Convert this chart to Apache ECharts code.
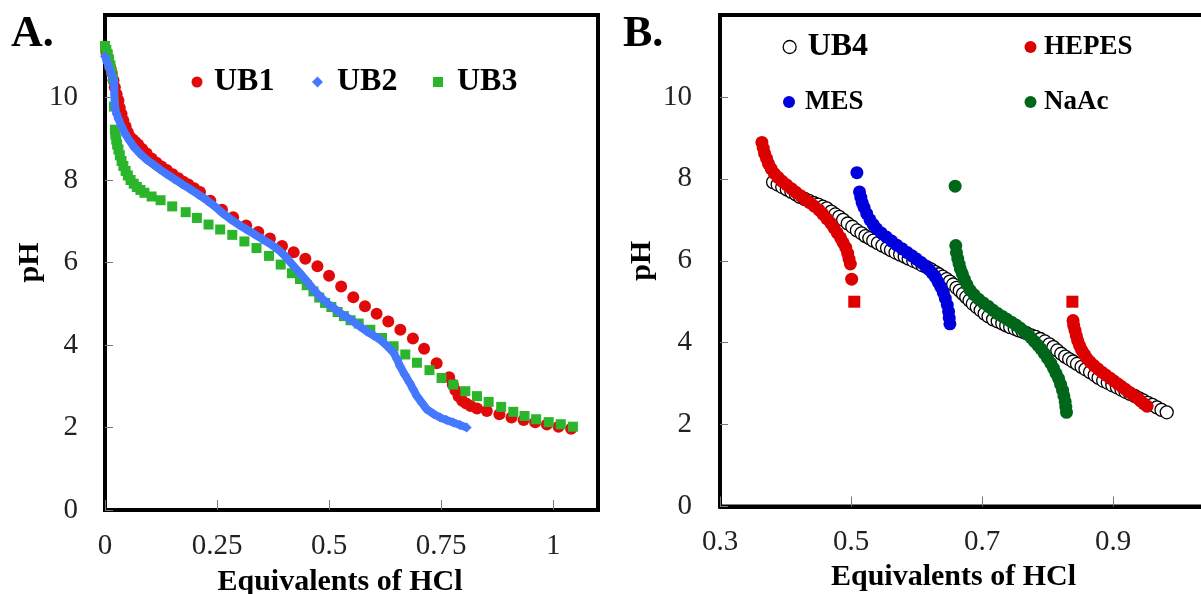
<!DOCTYPE html>
<html>
<head>
<meta charset="utf-8">
<script src="https://cdn.jsdelivr.net/npm/echarts@6/dist/echarts.min.js"></script>
<style>
html,body{margin:0;padding:0;background:#fff;}
#chart{width:1201px;height:594px;}
</style>
</head>
<body>
<div id="chart"></div>
<script>
// ---------- Panel A data: [equivalents of HCl, pH] ----------
const ub1 = [[0.003,11.1],[0.007,10.95],[0.011,10.75],[0.015,10.6],[0.019,10.42],[0.022,10.25],[0.026,10.08],[0.03,9.93],[0.033,9.75],[0.037,9.6],[0.041,9.44],[0.046,9.3],[0.051,9.16],[0.056,9.04],[0.062,8.98],[0.068,8.92],[0.074,8.86],[0.083,8.75],[0.093,8.64],[0.104,8.52],[0.115,8.42],[0.126,8.33],[0.138,8.24],[0.151,8.14],[0.164,8.04],[0.175,7.96],[0.186,7.89],[0.199,7.8],[0.212,7.71],[0.235,7.5],[0.261,7.28],[0.286,7.1],[0.315,6.9],[0.342,6.74],[0.368,6.58],[0.395,6.4],[0.421,6.25],[0.447,6.09],[0.474,5.91],[0.5,5.68],[0.527,5.42],[0.554,5.16],[0.58,4.94],[0.606,4.76],[0.632,4.57],[0.659,4.37],[0.687,4.16],[0.712,3.91],[0.74,3.56],[0.768,3.22],[0.776,3.04],[0.782,2.9],[0.789,2.76],[0.797,2.65],[0.806,2.58],[0.816,2.52],[0.83,2.46],[0.852,2.4],[0.88,2.32],[0.907,2.24],[0.934,2.18],[0.96,2.13],[0.986,2.07],[1.012,2.02],[1.04,1.97]];
const ub2 = [[0.0,11.0],[0.005,10.85],[0.01,10.7],[0.015,10.55],[0.02,10.4],[0.022,9.75],[0.026,9.6],[0.03,9.48],[0.037,9.3],[0.045,9.12],[0.055,8.95],[0.066,8.78],[0.078,8.64],[0.092,8.5],[0.107,8.38],[0.122,8.26],[0.138,8.14],[0.155,8.02],[0.172,7.9],[0.19,7.78],[0.208,7.65],[0.226,7.52],[0.244,7.37],[0.262,7.2],[0.28,7.05],[0.298,6.92],[0.316,6.8],[0.334,6.68],[0.352,6.56],[0.37,6.44],[0.388,6.3],[0.403,6.14],[0.418,5.95],[0.435,5.74],[0.45,5.55],[0.465,5.35],[0.48,5.17],[0.495,5.02],[0.51,4.9],[0.525,4.77],[0.54,4.67],[0.554,4.57],[0.569,4.45],[0.584,4.33],[0.599,4.23],[0.614,4.13],[0.629,3.98],[0.644,3.81],[0.652,3.65],[0.658,3.49],[0.669,3.28],[0.68,3.08],[0.688,2.92],[0.696,2.76],[0.707,2.6],[0.718,2.44],[0.733,2.33],[0.748,2.24],[0.762,2.18],[0.777,2.12],[0.792,2.06],[0.807,2.0]];
const ub3 = [[0.0,11.25],[0.003,11.15],[0.006,11.05],[0.009,10.92],[0.012,10.78],[0.015,10.62],[0.018,10.45],[0.02,9.78],[0.022,9.22],[0.023,9.1],[0.025,8.98],[0.027,8.86],[0.03,8.74],[0.033,8.6],[0.037,8.46],[0.041,8.34],[0.046,8.22],[0.051,8.11],[0.057,8.0],[0.064,7.91],[0.071,7.83],[0.079,7.76],[0.088,7.69],[0.104,7.6],[0.124,7.51],[0.15,7.36],[0.18,7.22],[0.205,7.08],[0.231,6.92],[0.257,6.8],[0.284,6.67],[0.311,6.51],[0.338,6.35],[0.366,6.16],[0.392,5.95],[0.417,5.74],[0.435,5.6],[0.45,5.45],[0.465,5.3],[0.478,5.15],[0.491,5.02],[0.505,4.92],[0.519,4.8],[0.533,4.7],[0.548,4.6],[0.566,4.52],[0.592,4.37],[0.618,4.17],[0.644,3.97],[0.67,3.77],[0.696,3.57],[0.724,3.39],[0.751,3.2],[0.777,3.04],[0.804,2.88],[0.83,2.76],[0.856,2.62],[0.884,2.5],[0.911,2.38],[0.936,2.28],[0.962,2.2],[0.99,2.13],[1.017,2.08],[1.044,2.02]];

// ---------- Panel B data ----------
const ub4 = [[0.381,7.92],[0.388,7.86],[0.395,7.8],[0.402,7.74],[0.409,7.68],[0.416,7.62],[0.422,7.56],[0.429,7.51],[0.436,7.46],[0.443,7.41],[0.45,7.37],[0.457,7.32],[0.463,7.28],[0.47,7.2],[0.476,7.13],[0.482,7.07],[0.488,7.0],[0.495,6.91],[0.502,6.83],[0.509,6.74],[0.516,6.67],[0.522,6.6],[0.528,6.55],[0.534,6.49],[0.541,6.43],[0.548,6.37],[0.555,6.31],[0.561,6.26],[0.568,6.2],[0.575,6.15],[0.582,6.1],[0.588,6.05],[0.595,6.0],[0.602,5.95],[0.609,5.89],[0.616,5.84],[0.622,5.79],[0.628,5.73],[0.634,5.67],[0.64,5.61],[0.646,5.55],[0.651,5.49],[0.656,5.42],[0.661,5.34],[0.666,5.27],[0.671,5.19],[0.676,5.11],[0.681,5.03],[0.686,4.95],[0.692,4.87],[0.698,4.79],[0.704,4.71],[0.71,4.64],[0.717,4.57],[0.724,4.52],[0.731,4.47],[0.737,4.42],[0.743,4.38],[0.75,4.34],[0.756,4.3],[0.762,4.27],[0.768,4.23],[0.775,4.18],[0.782,4.14],[0.789,4.09],[0.796,4.03],[0.803,3.96],[0.809,3.89],[0.815,3.81],[0.821,3.73],[0.827,3.66],[0.833,3.6],[0.839,3.54],[0.845,3.48],[0.852,3.41],[0.858,3.35],[0.865,3.28],[0.872,3.21],[0.878,3.14],[0.885,3.07],[0.892,3.02],[0.899,2.96],[0.906,2.91],[0.913,2.85],[0.919,2.8],[0.926,2.75],[0.933,2.7],[0.94,2.64],[0.946,2.59],[0.953,2.53],[0.96,2.48],[0.967,2.42],[0.974,2.36],[0.982,2.3]];
const hepes = [[0.364,8.89],[0.366,8.75],[0.368,8.62],[0.371,8.5],[0.374,8.37],[0.378,8.25],[0.383,8.13],[0.389,8.03],[0.395,7.94],[0.402,7.85],[0.409,7.76],[0.416,7.67],[0.423,7.59],[0.43,7.5],[0.437,7.42],[0.444,7.33],[0.451,7.24],[0.457,7.14],[0.463,7.03],[0.469,6.92],[0.474,6.8],[0.479,6.68],[0.484,6.56],[0.488,6.44],[0.492,6.32],[0.495,6.18],[0.497,6.04],[0.499,5.92],[0.501,5.55],
  [0.839,4.54],[0.84,4.42],[0.842,4.3],[0.844,4.17],[0.846,4.05],[0.849,3.93],[0.852,3.82],[0.856,3.72],[0.86,3.62],[0.865,3.53],[0.871,3.44],[0.877,3.36],[0.883,3.28],[0.889,3.21],[0.895,3.14],[0.901,3.07],[0.907,3.0],[0.913,2.93],[0.919,2.86],[0.925,2.79],[0.931,2.72],[0.937,2.65],[0.942,2.58],[0.947,2.51],[0.952,2.45]];
const hepesSquares = [[0.505,5.0],[0.838,5.0]];
const mes = [[0.509,8.15],[0.513,7.68],[0.515,7.55],[0.517,7.42],[0.52,7.3],[0.524,7.15],[0.529,7.0],[0.534,6.88],[0.539,6.78],[0.546,6.68],[0.554,6.58],[0.562,6.48],[0.57,6.38],[0.578,6.29],[0.586,6.2],[0.593,6.12],[0.6,6.04],[0.607,5.96],[0.613,5.88],[0.619,5.79],[0.624,5.7],[0.629,5.6],[0.633,5.48],[0.637,5.36],[0.641,5.22],[0.644,5.08],[0.647,4.92],[0.649,4.76],[0.65,4.6],[0.651,4.46]];
const naac = [[0.659,7.82],[0.66,6.37],[0.661,6.2],[0.663,6.05],[0.665,5.92],[0.667,5.8],[0.67,5.68],[0.673,5.55],[0.677,5.42],[0.682,5.28],[0.688,5.17],[0.695,5.06],[0.702,4.97],[0.71,4.88],[0.717,4.79],[0.724,4.71],[0.731,4.64],[0.738,4.57],[0.745,4.5],[0.752,4.43],[0.758,4.36],[0.764,4.28],[0.77,4.2],[0.775,4.12],[0.78,4.03],[0.785,3.94],[0.79,3.85],[0.795,3.74],[0.8,3.62],[0.805,3.5],[0.809,3.38],[0.813,3.25],[0.817,3.12],[0.82,2.98],[0.823,2.84],[0.825,2.7],[0.827,2.56],[0.828,2.43],[0.829,2.3]];

// axis ranges / ticks
const axisA = {xMin: 0, xMax: 1.1, xStep: 0.25, yMin: 0, yMax: 12, yStep: 2};
const axisB = {xMin: 0.3, xMax: 1.1, xStep: 0.2, yMin: 0, yMax: 12, yStep: 2};
const panelLabels = ['A.', 'B.'];
const xName = 'Equivalents of HCl';
const yName = 'pH';

const SERIF = 'Liberation Serif';
const chart = echarts.init(document.getElementById('chart'), null, {renderer: 'canvas'});

function xAxis(idx, ax, labelMargin, nameGap, namePadRight) {
  return {
    type: 'value', gridIndex: idx, min: ax.xMin, max: ax.xMax, interval: ax.xStep,
    name: xName, nameLocation: 'middle', nameGap: nameGap,
    nameTextStyle: {fontFamily: SERIF, fontWeight: 'bold', fontSize: 30, color: '#000', padding: [0, namePadRight, 0, 0]},
    axisLine: {show: true, onZero: false, lineStyle: {color: '#000', width: 4}},
    axisTick: {show: true, inside: true, length: 10, lineStyle: {color: '#777', width: 1}},
    axisLabel: {fontFamily: SERIF, fontSize: 29, color: '#222', margin: labelMargin, showMaxLabel: false},
    splitLine: {show: false}
  };
}
function yAxis(idx, ax, labelMargin, nameGap) {
  return {
    type: 'value', gridIndex: idx, min: ax.yMin, max: ax.yMax, interval: ax.yStep,
    name: yName, nameLocation: 'middle', nameGap: nameGap,
    nameTextStyle: {fontFamily: SERIF, fontWeight: 'bold', fontSize: 30, color: '#000'},
    axisLine: {show: true, onZero: false, lineStyle: {color: '#000', width: 4}},
    axisTick: {show: true, inside: true, length: 8, lineStyle: {color: '#777', width: 1}},
    axisLabel: {fontFamily: SERIF, fontSize: 29, color: '#222', margin: labelMargin, showMaxLabel: false},
    splitLine: {show: false}
  };
}
function legendItem(name, icon, left, top, size, fontSize, padLeft, style) {
  const d = {name: name, icon: icon};
  if (style) d.itemStyle = style;
  return {
    data: [d], left: left, top: top, padding: 0, itemWidth: size, itemHeight: size,
    selectedMode: false,
    textStyle: {fontFamily: SERIF, fontWeight: 'bold', fontSize: fontSize, color: '#000', padding: [0, 0, 0, padLeft]}
  };
}

const option = {
  animation: false,
  backgroundColor: '#fff',
  grid: [
    {left: 105, top: 15, width: 493, height: 495, show: true, borderColor: '#000', borderWidth: 4, containLabel: false, outerBoundsMode: 'none'},
    {left: 720, top: 15, width: 524, height: 491.5, show: true, borderColor: '#000', borderWidth: 4, containLabel: false, outerBoundsMode: 'none'}
  ],
  xAxis: [xAxis(0, axisA, 22, 57, 23), xAxis(1, axisB, 21, 56, 57)],
  yAxis: [yAxis(0, axisA, 27, 59), yAxis(1, axisB, 28, 63)],
  legend: [
    legendItem('UB1', 'circle', 191.5, 66, 11, 32, 6.5),
    legendItem('UB2', 'diamond', 312, 66, 11, 32, 9),
    legendItem('UB3', 'rect', 433, 66, 10, 32, 9),
    legendItem('UB4', 'circle', 782.5, 31, 13, 32, 6.5, {color: '#fff', borderColor: '#000', borderWidth: 1.3}),
    legendItem('HEPES', 'circle', 1024.5, 33.5, 12, 27, 2.5),
    legendItem('MES', 'circle', 783, 88.5, 12, 27, 5),
    legendItem('NaAc', 'circle', 1024.5, 88.5, 12, 27, 2.5)
  ],
  graphic: [
    {type: 'text', left: 11, top: 13, style: {text: panelLabels[0], font: 'bold 44px "Liberation Serif"', fill: '#000'}},
    {type: 'text', left: 623, top: 13, style: {text: panelLabels[1], font: 'bold 44px "Liberation Serif"', fill: '#000'}}
  ],
  series: [
    {name: 'UB1', type: 'scatter', xAxisIndex: 0, yAxisIndex: 0, data: ub1, symbol: 'circle', symbolSize: 12,
      itemStyle: {color: '#e10a0a', opacity: 1}},
    {name: 'UB2', type: 'line', xAxisIndex: 0, yAxisIndex: 0, data: ub2, symbol: 'diamond', symbolSize: 10, showSymbol: true,
      lineStyle: {color: '#4479ff', width: 8}, itemStyle: {color: '#4479ff'}},
    {name: 'UB3', type: 'scatter', xAxisIndex: 0, yAxisIndex: 0, data: ub3, symbol: 'rect', symbolSize: 10,
      itemStyle: {color: '#2bb52b', opacity: 1}},
    {name: 'UB4', type: 'scatter', xAxisIndex: 1, yAxisIndex: 1, data: ub4, symbol: 'circle', symbolSize: 13,
      itemStyle: {color: '#fff', borderColor: '#000', borderWidth: 1.3, opacity: 1}},
    {name: 'HEPES', type: 'scatter', xAxisIndex: 1, yAxisIndex: 1, data: hepes, symbol: 'circle', symbolSize: 13,
      itemStyle: {color: '#dd0000', opacity: 1}},
    {name: 'HEPES pKa', type: 'scatter', xAxisIndex: 1, yAxisIndex: 1, data: hepesSquares, symbol: 'rect', symbolSize: 12,
      itemStyle: {color: '#e00000', opacity: 1}},
    {name: 'MES', type: 'scatter', xAxisIndex: 1, yAxisIndex: 1, data: mes, symbol: 'circle', symbolSize: 13,
      itemStyle: {color: '#0000dc', opacity: 1}},
    {name: 'NaAc', type: 'scatter', xAxisIndex: 1, yAxisIndex: 1, data: naac, symbol: 'circle', symbolSize: 13,
      itemStyle: {color: '#00661a', opacity: 1}}
  ]
};
chart.setOption(option);
</script>
</body>
</html>
